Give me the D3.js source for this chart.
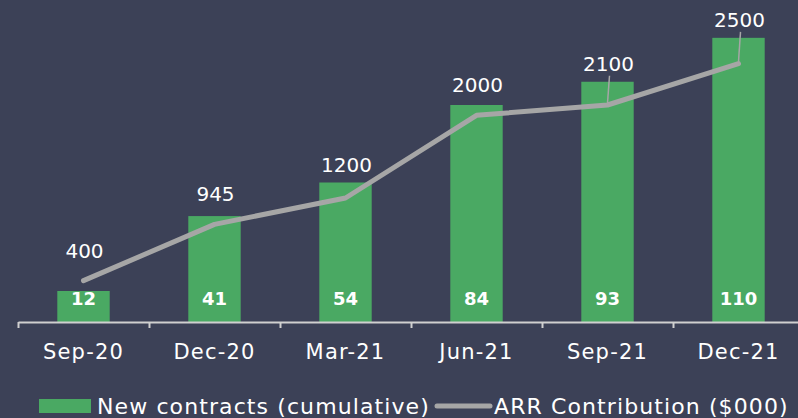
<!DOCTYPE html>
<html>
<head>
<meta charset="utf-8">
<script src="https://cdn.jsdelivr.net/npm/d3@7"></script>
<style>
  body { margin: 0; background: #3c4157; }
  svg { display: block; font-family: "DejaVu Sans", sans-serif; }
</style>
</head>
<body>
<script>
// Chart data
var categories = ['Sep-20', 'Dec-20', 'Mar-21', 'Jun-21', 'Sep-21', 'Dec-21'];
var contracts = [12, 41, 54, 84, 93, 110];
var arr = [400, 945, 1200, 2000, 2100, 2500];
var legendLabels = ['New contracts (cumulative)', 'ARR Contribution ($000)'];

var width = 798;
var height = 418;
var baseY = 322;
var font = '"DejaVu Sans", sans-serif';

var svg = d3.select('body')
    .append('svg')
    .attr('width', width)
    .attr('height', height);

svg.append('rect')
    .attr('width', width)
    .attr('height', height)
    .attr('fill', '#3c4157');

// Scales: band for categories, two value scales sharing the same plot height
var xScale = d3.scaleBand()
    .domain(categories)
    .range([18, 804])
    .paddingInner(0.6)
    .paddingOuter(0.3);

var yBar = d3.scaleLinear().domain([0, 120]).range([baseY, 12]);
var yLine = d3.scaleLinear().domain([0, 3000]).range([baseY, 12]);

var data = categories.map(function(c, i) {
    return { cat: c, n: contracts[i], arr: arr[i] };
});

// Bars
svg.selectAll('.bar')
    .data(data)
    .enter()
    .append('rect')
    .attr('class', 'bar')
    .attr('x', function(d) { return xScale(d.cat); })
    .attr('y', function(d) { return yBar(d.n); })
    .attr('width', xScale.bandwidth())
    .attr('height', function(d) { return baseY - yBar(d.n); })
    .attr('fill', '#4aa963');

// Bar labels
svg.selectAll('.barlabel')
    .data(data)
    .enter()
    .append('text')
    .attr('x', function(d) { return xScale(d.cat) + xScale.bandwidth() / 2; })
    .attr('y', 305)
    .attr('text-anchor', 'middle')
    .attr('fill', '#fff')
    .attr('font-size', 18)
    .attr('font-weight', 'bold')
    .text(function(d) { return d.n; });

// X axis: category boundary ticks and labels
var edges = d3.scaleLinear().domain([0, categories.length]).range([18, 804]);
svg.append('g')
    .attr('transform', 'translate(0,' + baseY + ')')
    .call(d3.axisBottom(edges).tickValues(d3.range(categories.length + 1)).tickFormat('').tickSize(6).tickSizeOuter(0))
    .call(function(g) {
        g.select('.domain').attr('stroke', '#d0d0d0').attr('stroke-width', 2);
        g.selectAll('.tick line').attr('stroke', '#d0d0d0').attr('stroke-width', 2);
    });

svg.append('g')
    .attr('transform', 'translate(0,' + baseY + ')')
    .call(d3.axisBottom(xScale).tickSize(0).tickPadding(22))
    .call(function(g) {
        g.select('.domain').remove();
        g.selectAll('text')
            .attr('fill', '#fff')
            .attr('font-size', 21)
            .attr('letter-spacing', 1.2)
            .attr('font-family', font);
    });

// ARR line
var cx = function(d) { return xScale(d.cat) + xScale.bandwidth() / 2; };
var line = d3.line()
    .x(cx)
    .y(function(d) { return yLine(d.arr); });

svg.append('path')
    .datum(data)
    .attr('d', line)
    .attr('fill', 'none')
    .attr('stroke', '#a6a6a6')
    .attr('stroke-width', 5)
    .attr('stroke-linecap', 'round')
    .attr('stroke-linejoin', 'round');

// ARR labels, pushed above the bar when needed, with leader lines
data.forEach(function(d) {
    var py = yLine(d.arr);
    var ly = Math.min(py - 30, yBar(d.n) - 18);
    if (ly < py - 36) {
        svg.append('line')
            .attr('x1', cx(d) + 2)
            .attr('y1', ly + 12)
            .attr('x2', cx(d))
            .attr('y2', py - 2)
            .attr('stroke', '#a6a6a6')
            .attr('stroke-width', 1.5);
    }
    svg.append('text')
        .attr('x', cx(d) + 1)
        .attr('y', ly)
        .attr('dy', '0.35em')
        .attr('text-anchor', 'middle')
        .attr('fill', '#fff')
        .attr('font-size', 20)
        .text(d.arr);
});

// Legend
var legend = svg.append('g').attr('transform', 'translate(0,406)');
legend.append('rect')
    .attr('x', 39).attr('y', -7)
    .attr('width', 52).attr('height', 14)
    .attr('fill', '#4aa963');
legend.append('text')
    .attr('x', 97).attr('y', 0).attr('dy', '0.35em')
    .attr('fill', '#fff').attr('font-size', 22)
    .attr('letter-spacing', 1.1)
    .text(legendLabels[0]);
legend.append('line')
    .attr('x1', 437).attr('x2', 490)
    .attr('y1', 0).attr('y2', 0)
    .attr('stroke', '#a6a6a6').attr('stroke-width', 5)
    .attr('stroke-linecap', 'round');
legend.append('text')
    .attr('x', 494).attr('y', 0).attr('dy', '0.35em')
    .attr('fill', '#fff').attr('font-size', 22)
    .attr('letter-spacing', 1.1)
    .text(legendLabels[1]);
</script>
</body>
</html>
